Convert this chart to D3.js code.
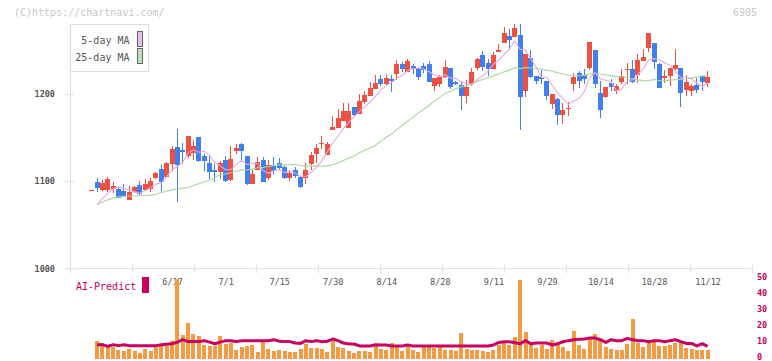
<!DOCTYPE html>
<html><head><meta charset="utf-8">
<script src="https://cdn.jsdelivr.net/npm/d3@7"></script>
<style>
body{margin:0;background:#fff;}
svg{display:block;}
text{font-family:"DejaVu Sans Mono","Liberation Mono",monospace;}
</style>
</head><body>
<svg id="chart" width="772" height="361"></svg>
<script>
// ---- data ----
const dates = ["5/27","5/28","5/29","5/30","6/2","6/3","6/4","6/5","6/6","6/9","6/10","6/11","6/12","6/13","6/16","6/17","6/18","6/19","6/20","6/23","6/24","6/25","6/26","6/27","6/30","7/1","7/2","7/3","7/4","7/7","7/8","7/9","7/10","7/11","7/14","7/15","7/16","7/17","7/18","7/22","7/23","7/24","7/25","7/28","7/29","7/30","7/31","8/1","8/4","8/5","8/6","8/7","8/8","8/12","8/13","8/14","8/15","8/18","8/19","8/20","8/21","8/22","8/25","8/26","8/27","8/28","8/29","9/1","9/2","9/3","9/4","9/5","9/8","9/9","9/10","9/11","9/12","9/16","9/17","9/18","9/19","9/22","9/24","9/25","9/26","9/29","9/30","10/1","10/2","10/3","10/6","10/7","10/8","10/9","10/10","10/14","10/15","10/16","10/17","10/20","10/21","10/22","10/23","10/24","10/27","10/28","10/29","10/30","10/31","11/4","11/5","11/6","11/7","11/10","11/11","11/12"];
const xLabels = ["6/17","7/1","7/15","7/30","8/14","8/28","9/11","9/29","10/14","10/28","11/12"];

const open  = [1090,1099,1090,1090,1091,1091,1089,1078,1087,1096,1090,1091,1104,1114,1105,1120,1139,1136,1129,1132,1151,1129,1121,1113,1110,1124,1101,1135,1143,1129,1097,1113,1124,1104,1119,1121,1116,1104,1113,1105,1104,1120,1131,1143,1130,1159,1161,1169,1161,1185,1177,1191,1198,1206,1217,1211,1217,1223,1234,1225,1232,1230,1232,1234,1209,1211,1220,1230,1214,1210,1198,1211,1230,1245,1236,1229,1248,1258,1266,1265,1268,1204,1241,1221,1219,1215,1189,1194,1176,1183,1212,1224,1222,1230,1250,1201,1197,1213,1203,1214,1228,1229,1222,1238,1253,1259,1234,1218,1221,1229,1230,1205,1204,1210,1221,1213];
const high  = [1090,1104,1101,1105,1099,1093,1097,1094,1094,1100,1103,1104,1111,1118,1122,1140,1160,1144,1152,1147,1151,1131,1130,1120,1123,1129,1140,1143,1144,1129,1113,1128,1128,1124,1128,1127,1119,1113,1116,1105,1121,1133,1143,1152,1145,1175,1183,1190,1190,1185,1200,1203,1214,1222,1222,1222,1222,1239,1237,1240,1234,1230,1236,1238,1218,1222,1239,1230,1215,1215,1216,1230,1241,1249,1240,1248,1257,1277,1275,1280,1280,1246,1251,1221,1227,1215,1200,1195,1190,1191,1224,1226,1229,1260,1250,1215,1208,1217,1211,1229,1236,1239,1246,1252,1270,1259,1236,1227,1230,1252,1230,1222,1211,1218,1221,1226];
const low   = [1090,1088,1089,1087,1086,1081,1083,1078,1086,1083,1090,1087,1102,1089,1105,1112,1076,1120,1126,1124,1122,1112,1102,1099,1103,1099,1100,1131,1124,1096,1097,1113,1099,1101,1108,1113,1102,1100,1104,1092,1097,1113,1121,1137,1130,1159,1161,1169,1161,1174,1177,1188,1198,1206,1209,1210,1202,1216,1225,1225,1223,1216,1224,1214,1204,1208,1218,1206,1210,1182,1190,1209,1228,1226,1221,1229,1248,1258,1250,1265,1159,1196,1218,1211,1211,1193,1183,1164,1166,1175,1204,1207,1211,1227,1207,1173,1195,1203,1200,1211,1212,1213,1213,1238,1248,1229,1207,1213,1209,1228,1185,1198,1198,1201,1204,1208];
const close = [1090,1092,1098,1102,1094,1081,1083,1088,1093,1085,1097,1100,1109,1099,1121,1137,1118,1133,1152,1140,1123,1123,1110,1111,1121,1100,1125,1138,1135,1097,1108,1122,1099,1119,1112,1115,1104,1109,1106,1093,1113,1130,1138,1144,1143,1162,1172,1180,1180,1176,1192,1199,1207,1213,1211,1218,1216,1234,1229,1238,1229,1219,1228,1214,1218,1220,1231,1208,1212,1198,1208,1225,1240,1231,1229,1245,1251,1270,1262,1276,1197,1246,1220,1215,1217,1198,1200,1176,1182,1184,1219,1215,1217,1260,1212,1182,1208,1208,1209,1221,1229,1214,1239,1243,1270,1237,1207,1221,1230,1233,1201,1214,1209,1205,1214,1220];

const ma5 = [null,1074,1080,1086,1091,1093.4,1091.6,1089.6,1087.8,1086.0,1089.2,1092.6,1096.8,1098.0,1105.2,1113.2,1116.8,1121.6,1132.2,1136.0,1133.2,1134.2,1129.6,1121.4,1117.6,1113.0,1113.4,1119.0,1123.8,1119.0,1120.6,1120.0,1112.2,1109.0,1112.0,1113.4,1109.8,1111.8,1109.2,1105.4,1105.0,1110.2,1116.0,1123.6,1133.6,1143.4,1151.8,1160.2,1167.4,1174.0,1180.0,1185.4,1190.8,1197.4,1204.4,1209.6,1213.0,1218.4,1221.6,1227.0,1229.2,1229.8,1228.6,1225.6,1221.6,1219.8,1222.2,1218.2,1217.8,1213.8,1211.4,1210.2,1216.6,1220.4,1226.6,1234.0,1239.2,1245.2,1251.4,1260.8,1251.2,1250.2,1240.2,1230.8,1219.0,1219.2,1210.0,1201.2,1194.6,1187.8,1192.0,1195.0,1203.2,1218.8,1224.6,1217.2,1215.8,1214.0,1203.8,1205.6,1215.0,1216.2,1222.4,1229.2,1239.0,1240.6,1239.2,1235.6,1233.0,1225.6,1218.4,1219.8,1217.4,1212.4,1208.6,1212.4];
const ma25 = [null,1073,1076,1078.5,1080.5,1082,1082.5,1083,1083,1083.5,1083.5,1084,1085,1087,1088.5,1090,1091,1092,1093,1095,1097,1099,1101,1104,1108.0,1108.4,1109.7,1111.3,1112.6,1112.8,1113.8,1115.4,1115.8,1116.9,1118.0,1118.7,1118.8,1118.8,1119.1,1118.0,1117.0,1117.5,1117.7,1117.4,1117.5,1119.1,1121.0,1123.8,1126.6,1128.8,1132.5,1135.4,1138.2,1141.3,1145.9,1150.3,1154.0,1159.4,1163.8,1168.9,1173.4,1178.0,1182.8,1187.1,1192.1,1196.4,1200.4,1203.2,1206.0,1208.2,1210.0,1212.1,1214.5,1216.6,1218.7,1220.8,1222.9,1225.4,1227.4,1230.0,1229.1,1230.3,1229.8,1229.2,1228.4,1227.1,1226.4,1224.3,1223.0,1221.6,1221.6,1220.9,1221.3,1223.2,1223.8,1222.7,1222.0,1220.8,1219.9,1219.6,1218.9,1217.4,1216.2,1215.4,1215.2,1216.8,1215.2,1215.3,1215.9,1216.5,1216.6,1217.2,1218.5,1219.4,1220.7,1220.7];

const volume = [null,10.6,9.3,7.5,6.4,5.0,3.9,5.6,3.9,3.1,5.6,3.9,6.6,7.2,7.2,10.6,49.1,14.3,21.3,14.9,13.7,8.1,7.5,7.2,13.7,8.7,9.3,5.0,6.4,7.5,8.1,3.7,9.9,5.6,4.3,5.0,3.9,3.7,3.7,5.6,8.7,6.2,6.2,5.6,3.7,10.6,6.8,6.2,4.3,3.1,4.3,4.3,3.7,8.1,5.6,5.0,9.3,7.5,4.3,6.8,5.0,3.7,6.8,6.8,6.2,6.8,5.0,5.0,4.3,15.5,5.6,5.0,5.0,4.3,3.7,5.0,8.1,9.9,8.1,13.0,48.4,16.1,9.9,6.2,8.1,5.6,11.2,9.9,6.8,4.3,16.8,8.1,5.6,11.8,14.9,10.6,6.8,5.6,5.0,5.0,8.7,24.2,9.3,6.8,9.3,10.6,7.5,7.5,8.1,9.3,10.6,6.2,5.6,5.0,5.0,5.0];
const aiPredict = [null,8.1,8.1,7.0,8.1,7.5,8.1,7.5,7.5,7.5,7.5,7.5,7.5,8.1,8.4,8.7,9.7,11.2,10.0,10.0,10.0,10.6,9.7,8.7,9.7,10.6,10.6,10.0,10.6,10.6,10.6,10.6,10.6,10.6,11.2,10.3,10.0,10.0,9.1,8.9,10.6,10.0,10.6,9.9,10.3,11.6,10.6,9.1,8.5,8.5,7.3,7.3,7.3,8.1,7.9,7.9,7.3,7.3,7.3,7.9,7.3,7.3,7.3,7.3,7.3,7.3,7.3,7.3,7.3,7.3,7.3,7.3,7.3,7.3,7.3,7.9,9.5,9.9,9.9,9.3,8.7,10.6,8.7,9.1,9.1,9.1,7.9,8.7,9.9,10.6,11.2,11.4,11.6,12.2,12.2,11.2,9.5,11.2,10.6,10.6,12.0,11.2,10.6,10.6,9.9,10.6,10.6,9.9,10.6,11.2,10.0,8.9,8.9,7.3,8.7,7.0];

const priceTicks = [1000, 1100, 1200];
const volTicks = [0, 10, 20, 30, 40, 50];
const legendItems = ["5-day MA", "25-day MA"];

// ---- styles ----
const C = {
  up: "#f0503f", down: "#3f7ff0", ma5: "#e6a8e6", ma25: "#a9d6a0",
  vol: "#f39a43", ai: "#c8005f", axis: "#e2e2e2", text: "#555", faint: "#c8c8c8"
};

const svg = d3.select("#chart");
const n = dates.length;
const x = d3.scaleLinear().domain([0, n - 1]).range([91.7, 707.6]);
const y = d3.scaleLinear().domain([1000, 1200]).range([268.3, 94]);
const yv = d3.scaleLinear().domain([0, 50]).range([357.7, 277.3]);
const grid = d3.scaleLinear().domain([0, 11]).range([70, 752]);

// header texts
svg.append("text").attr("x", 14).attr("y", 15.5).attr("font-size", 10).attr("fill", C.faint)
  .text("(C)https://chartnavi.com/");
svg.append("text").attr("x", 757).attr("y", 15.5).attr("font-size", 10).attr("fill", C.faint)
  .attr("text-anchor", "end").text("6905");

// left axis line
svg.append("line").attr("x1", 70.5).attr("x2", 70.5).attr("y1", 24).attr("y2", 273)
  .attr("stroke", C.axis).attr("stroke-width", 1.2);

// bottom axis line + fixed ticks
svg.append("line").attr("x1", 65).attr("x2", 752.5).attr("y1", 268.5).attr("y2", 268.5)
  .attr("stroke", C.axis).attr("stroke-width", 1.2);
svg.append("g").selectAll("line").data(d3.range(1, 12)).join("line")
  .attr("x1", d => Math.round(grid(d)) + 0.5).attr("x2", d => Math.round(grid(d)) + 0.5)
  .attr("y1", 265).attr("y2", 273).attr("stroke", C.axis).attr("stroke-width", 1.2);

// y axis (price)
const yAxis = svg.append("g").attr("transform", "translate(70,0)")
  .call(d3.axisLeft(y).tickValues(priceTicks).tickSize(5).tickPadding(10).tickFormat(d3.format("d")));
yAxis.select(".domain").remove();
yAxis.selectAll(".tick line").attr("x1", 4).attr("x2", -5).attr("stroke", C.axis).attr("stroke-width", 1.2);
yAxis.selectAll(".tick text").attr("fill", C.text).attr("font-size", 8.5).attr("font-weight", "bold")
  .attr("font-family", "DejaVu Sans Mono, monospace");

// legend box
svg.append("rect").attr("x", 70.5).attr("y", 24.5).attr("width", 78).attr("height", 47)
  .attr("fill", "#fff").attr("stroke", "#dcdcdc");
const lg = svg.append("g");
lg.selectAll("text").data(legendItems).join("text")
  .attr("x", 129.5).attr("y", (d, i) => 44 + i * 17).attr("text-anchor", "end")
  .attr("font-size", 10).attr("fill", C.text).text(d => d);
lg.selectAll("rect").data([C.ma5, C.ma25]).join("rect")
  .attr("x", 137.5).attr("y", (d, i) => 31.5 + i * 17).attr("width", 5).attr("height", 15)
  .attr("fill", (d, i) => i === 0 ? "#eebaee" : "#bfe0b7").attr("stroke", "#666");

// x labels
const labelIdx = xLabels.map(l => dates.indexOf(l));
const xAxis = svg.append("g").attr("transform", "translate(0,268)")
  .call(d3.axisBottom(x).tickValues(labelIdx).tickSize(0).tickPadding(11).tickFormat(i => dates[i]));
xAxis.select(".domain").remove();
xAxis.selectAll(".tick text").attr("fill", C.text).attr("font-size", 8.5)
  .attr("font-family", "DejaVu Sans Mono, monospace");

// candles
const idx = d3.range(n);
const cg = svg.append("g").attr("shape-rendering", "crispEdges");
cg.selectAll("rect.w").data(idx).join("rect").attr("class", "w")
  .attr("x", i => Math.round(x(i) - 2.5) + 2).attr("width", 1)
  .attr("y", i => y(high[i])).attr("height", i => Math.max(1, y(low[i]) - y(high[i])))
  .attr("fill", i => close[i] >= open[i] ? C.up : C.down);
cg.selectAll("rect.b").data(idx).join("rect").attr("class", "b")
  .attr("x", i => Math.round(x(i) - 2.5)).attr("width", 5)
  .attr("y", i => y(Math.max(open[i], close[i])))
  .attr("height", i => Math.max(1.5, Math.abs(y(open[i]) - y(close[i]))))
  .attr("fill", i => close[i] >= open[i] ? C.up : C.down);

// moving averages
const maLine = arr => d3.line().defined(i => arr[i] != null).x(i => x(i)).y(i => y(arr[i]))(idx);
svg.append("path").attr("d", maLine(ma25)).attr("fill", "none").attr("stroke", C.ma25).attr("stroke-width", 1.1);
svg.append("path").attr("d", maLine(ma5)).attr("fill", "none").attr("stroke", C.ma5).attr("stroke-width", 1.1);

// AI-Predict label
svg.append("text").attr("x", 76).attr("y", 289.5).attr("font-size", 10).attr("fill", C.ai).text("AI-Predict");
svg.append("rect").attr("x", 142).attr("y", 277).attr("width", 7).attr("height", 16).attr("fill", C.ai);

// volume bars
svg.append("g").attr("shape-rendering", "crispEdges").selectAll("rect")
  .data(idx.filter(i => volume[i] != null)).join("rect")
  .attr("x", i => Math.round(x(i) - 2)).attr("width", 4)
  .attr("y", i => yv(volume[i])).attr("height", i => yv(0) - yv(volume[i]) + 1)
  .attr("fill", C.vol);

// AI predict line
svg.append("path")
  .attr("d", d3.line().defined(i => aiPredict[i] != null).x(i => x(i)).y(i => yv(aiPredict[i]))(idx))
  .attr("fill", "none").attr("stroke", C.ai).attr("stroke-width", 3).attr("stroke-linejoin", "round");

// right volume axis
const vAxis = svg.append("g").attr("transform", "translate(752,0)")
  .call(d3.axisRight(yv).tickValues(volTicks).tickSize(0).tickPadding(5));
vAxis.select(".domain").remove();
vAxis.selectAll(".tick text").attr("fill", C.ai).attr("font-size", 8.5).attr("font-weight", "bold")
  .attr("dy", "0.22em").attr("font-family", "DejaVu Sans Mono, monospace");
</script>
</body></html>
